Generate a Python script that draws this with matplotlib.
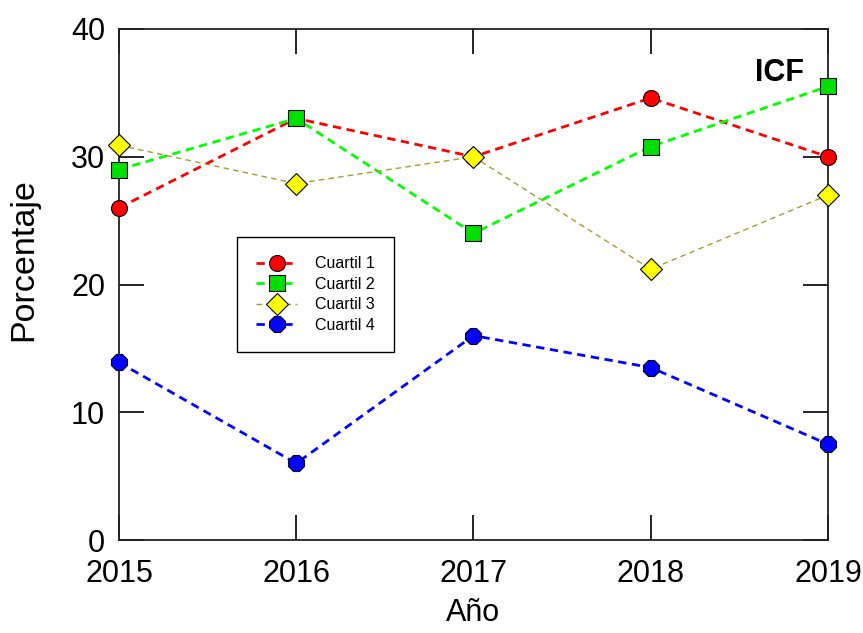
import matplotlib
matplotlib.use("Agg")
import matplotlib.pyplot as plt

years = [2015, 2016, 2017, 2018, 2019]
cuartil_1 = [26.0, 33.0, 30.0, 34.6, 30.0]
cuartil_2 = [29.0, 33.0, 24.0, 30.8, 35.5]
cuartil_3 = [30.9, 27.9, 30.0, 21.2, 27.0]
cuartil_4 = [13.9, 6.0, 16.0, 13.5, 7.5]
labels = ["Cuartil 1", "Cuartil 2", "Cuartil 3", "Cuartil 4"]

plt.rcParams["font.family"] = ["Liberation Sans", "DejaVu Sans"]

fig = plt.figure(figsize=(8.63, 6.33), dpi=100)
ax = fig.add_axes([0.1379, 0.1469, 0.8215, 0.8073])

ax.plot(years, cuartil_1, color="red", ls=(0, (3, 2)), lw=2.0, marker="o",
        ms=11.5, mfc="red", mec="black", mew=0.8, label=labels[0], clip_on=False, zorder=3)
ax.plot(years, cuartil_2, color="#00ff00", ls=(0, (3, 2)), lw=2.0, marker="s",
        ms=11, mfc="#00e000", mec="black", mew=0.8, label=labels[1], clip_on=False, zorder=3)
ax.plot(years, cuartil_3, color="#a0a030", ls=(0, (4, 3)), lw=1.0, marker="D",
        ms=11, mfc="yellow", mec="black", mew=0.8, label=labels[2], clip_on=False, zorder=3)
ax.plot(years, cuartil_4, color="blue", ls=(0, (3, 2)), lw=2.0, marker="8",
        ms=12, mfc="blue", mec="black", mew=0.8, label=labels[3], clip_on=False, zorder=3)

ax.set_xlim(2015, 2019)
ax.set_ylim(0, 40)
ax.set_xticks(years)
ax.set_yticks([0, 10, 20, 30, 40])
ax.tick_params(direction="in", length=18, width=1.2, labelsize=22,
               top=True, right=True, colors="black")
ax.tick_params(axis="x", pad=14)
ax.tick_params(axis="y", pad=10)
for sp in ax.spines.values():
    sp.set_linewidth(1.3)
    sp.set_color("#222222")

ax.set_xlabel("Año", fontsize=22, labelpad=6)
ax.set_ylabel("Porcentaje", fontsize=24.5)
ax.yaxis.set_label_coords(-0.113, 0.548)

ax.text(0.932, 0.914, "ICF", transform=ax.transAxes, ha="center", va="center",
        fontsize=22, fontweight="bold")

leg = ax.legend(loc="upper left", bbox_to_anchor=(0.166, 0.593), borderaxespad=0,
                fontsize=11.5, frameon=True, fancybox=False, edgecolor="black",
                framealpha=1, handlelength=2.6, borderpad=1.2, labelspacing=0.35,
                handletextpad=1.1)
leg.get_frame().set_linewidth(1.0)

fig.savefig("out.png", dpi=100)
